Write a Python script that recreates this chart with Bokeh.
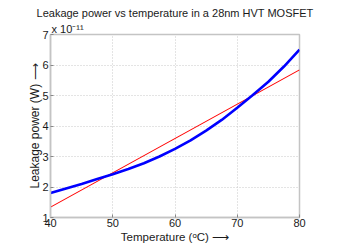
from bokeh.plotting import figure
from bokeh.models import Range1d, FixedTicker, Title
from bokeh.embed import file_html
from bokeh.resources import INLINE

# Data (leakage power in units of 1e-11 W)
temps = [40, 42.5, 45, 47.5, 50, 52.5, 55, 57.5, 60, 62.5, 65, 67.5, 70, 72.5, 75, 77.5, 80]
leakage = [1.80, 1.95, 2.10, 2.26, 2.42, 2.59, 2.78, 3.00, 3.25, 3.53, 3.85, 4.20, 4.60, 5.02, 5.45, 5.95, 6.50]
fit_temps = [40, 80]
fit_leakage = [1.34, 5.84]
x_ticks = [40, 50, 60, 70, 80]
y_ticks = [1, 2, 3, 4, 5, 6, 7]

FONT = "Liberation Sans"
FRAME = "#c4c4c4"
TXT = "#1a1a1a"

p = figure(width=340, height=252, output_backend="svg", toolbar_location=None,
           x_range=Range1d(40, 80), y_range=Range1d(1, 7),
           min_border_left=50, min_border_right=41, min_border_top=34, min_border_bottom=35)
p.title = None
p.background_fill_color = "white"
p.border_fill_color = "white"
p.outline_line_color = FRAME
p.outline_line_width = 1.5

for ax in (p.xaxis[0], p.yaxis[0]):
    ax.axis_line_color = FRAME
    ax.axis_line_width = 1.5
    ax.major_tick_in = 3
    ax.major_tick_out = 0
    ax.major_tick_line_color = "#888888"
    ax.minor_tick_line_color = None
    ax.major_label_text_font = FONT
    ax.major_label_text_font_size = "11px"
    ax.major_label_text_color = TXT
    ax.axis_label_text_font = FONT
    ax.axis_label_text_font_style = "normal"
    ax.axis_label_text_color = TXT

p.xaxis.ticker = FixedTicker(ticks=x_ticks)
p.yaxis.ticker = FixedTicker(ticks=y_ticks)
p.xaxis.major_label_standoff = 1
p.yaxis.major_label_standoff = 2
p.xaxis.axis_label = "Temperature (ᵒC) ⟶"
p.yaxis.axis_label = "Leakage power (W) ⟶"
p.xaxis.axis_label_text_font_size = "11.5px"
p.yaxis.axis_label_text_font_size = "12px"
p.xaxis.axis_label_standoff = 1
p.yaxis.axis_label_standoff = -3

p.xgrid.ticker = FixedTicker(ticks=x_ticks[1:-1])
p.ygrid.ticker = FixedTicker(ticks=y_ticks[1:-1])
for g in (p.xgrid[0], p.ygrid[0]):
    g.grid_line_color = "#c8c8c8"
    g.grid_line_dash = "1 2"
    g.grid_line_width = 1

p.line(fit_temps, fit_leakage, line_color="#ff0000", line_width=1.1)
p.line(temps, leakage, line_color="#0000ff", line_width=2.6)

scale_title = Title(text="x 10⁻¹¹", align="left", text_font=FONT, text_font_size="11px",
                    text_font_style="normal", text_color=TXT, standoff=0, offset=1)
main_title = Title(text="Leakage power vs temperature in a 28nm HVT MOSFET", align="center",
                   text_font=FONT, text_font_size="11px", text_font_style="normal",
                   text_color=TXT, standoff=4)
p.add_layout(scale_title, "above")
p.add_layout(main_title, "above")

open("out.html", "w").write(file_html(p, INLINE))
